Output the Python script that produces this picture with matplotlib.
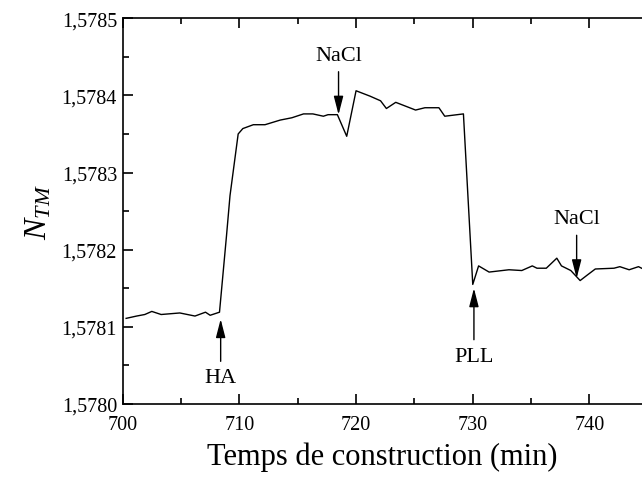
import matplotlib
matplotlib.use("Agg")
import matplotlib.pyplot as plt
from matplotlib.ticker import MultipleLocator, FuncFormatter

# refractive index vs construction time
t = [700.3, 701.2, 701.9, 702.5, 703.3, 704.9, 706.2, 707.1, 707.5, 708.3,
     708.9, 709.2, 709.9, 710.3, 711.2, 712.2, 713.5, 714.5, 715.5, 716.3,
     717.2, 717.6, 718.4, 719.2, 720.0, 721.2, 722.1, 722.6, 723.4, 725.1,
     725.9, 727.1, 727.6, 729.2, 730.0, 730.5, 731.4, 733.1, 734.2, 735.1,
     735.5, 736.3, 737.2, 737.6, 738.4, 739.2, 739.8, 740.5, 742.1, 742.6,
     743.4, 744.2, 744.6]
n_tm = [1.578111, 1.578114, 1.578116, 1.578120, 1.578116, 1.578118, 1.578114,
        1.578119, 1.578115, 1.578119, 1.578218, 1.578270, 1.578350, 1.578357,
        1.578362, 1.578362, 1.578368, 1.578371, 1.578376, 1.578376, 1.578373,
        1.578375, 1.578375, 1.578347, 1.578406, 1.578399, 1.578393, 1.578383,
        1.578391, 1.578381, 1.578384, 1.578384, 1.578373, 1.578376, 1.578155,
        1.578179, 1.578171, 1.578174, 1.578173, 1.578179, 1.578176, 1.578176,
        1.578189, 1.578179, 1.578173, 1.578160, 1.578167, 1.578175, 1.578176,
        1.578178, 1.578174, 1.578178, 1.578175]

# annotations: label, arrow x, arrow tip y, label y
labels = ["HA", "NaCl", "PLL", "NaCl"]
arrow_x = [708.4, 718.5, 730.1, 738.9]
tip_y = [1.578110, 1.578375, 1.578150, 1.578163]
label_y = [1.578034, 1.578452, 1.578062, 1.578240]

plt.rcParams['font.family'] = ['Liberation Serif', 'DejaVu Serif']
plt.rcParams['mathtext.fontset'] = 'custom'
plt.rcParams['mathtext.rm'] = 'Liberation Serif'
plt.rcParams['mathtext.it'] = 'Liberation Serif:italic'

fig = plt.figure(figsize=(6.42, 4.81), dpi=100)
ax = fig.add_axes([0.191, 0.158, 0.809, 0.802])

ax.plot(t, n_tm, color='black', lw=1.0)

ax.set_xlim(700, 744.5)
ax.set_ylim(1.5780, 1.5785)
ax.xaxis.set_major_locator(MultipleLocator(10))
ax.xaxis.set_minor_locator(MultipleLocator(5))
ax.yaxis.set_major_locator(MultipleLocator(0.0001))
ax.yaxis.set_minor_locator(MultipleLocator(0.00005))
ax.yaxis.set_major_formatter(FuncFormatter(lambda v, p: f"{v:.4f}".replace('.', ',')))

ax.spines['right'].set_visible(False)
for s in ['left', 'bottom', 'top']:
    ax.spines[s].set_linewidth(1.2)
ax.tick_params(which='both', direction='in', top=True, right=False,
               labelsize=14.5, width=1.2)
ax.tick_params(which='major', length=7)
ax.tick_params(which='minor', length=4)
ax.tick_params(axis='x', pad=8)
ax.tick_params(axis='y', pad=4)

ax.set_xlabel("Temps de construction (min)", fontsize=22, labelpad=5)
ax.set_ylabel(r"$N_{TM}$", fontsize=23, labelpad=6)

for lab, x, ty, ly in zip(labels, arrow_x, tip_y, label_y):
    ax.annotate(lab, xy=(x, ty), xytext=(x, ly), ha='center', va='center', fontsize=16,
                arrowprops=dict(arrowstyle='-|>,head_length=0.7,head_width=0.18',
                                color='black', lw=1.0, shrinkA=3, shrinkB=0))

fig.savefig("out.png", dpi=100)
